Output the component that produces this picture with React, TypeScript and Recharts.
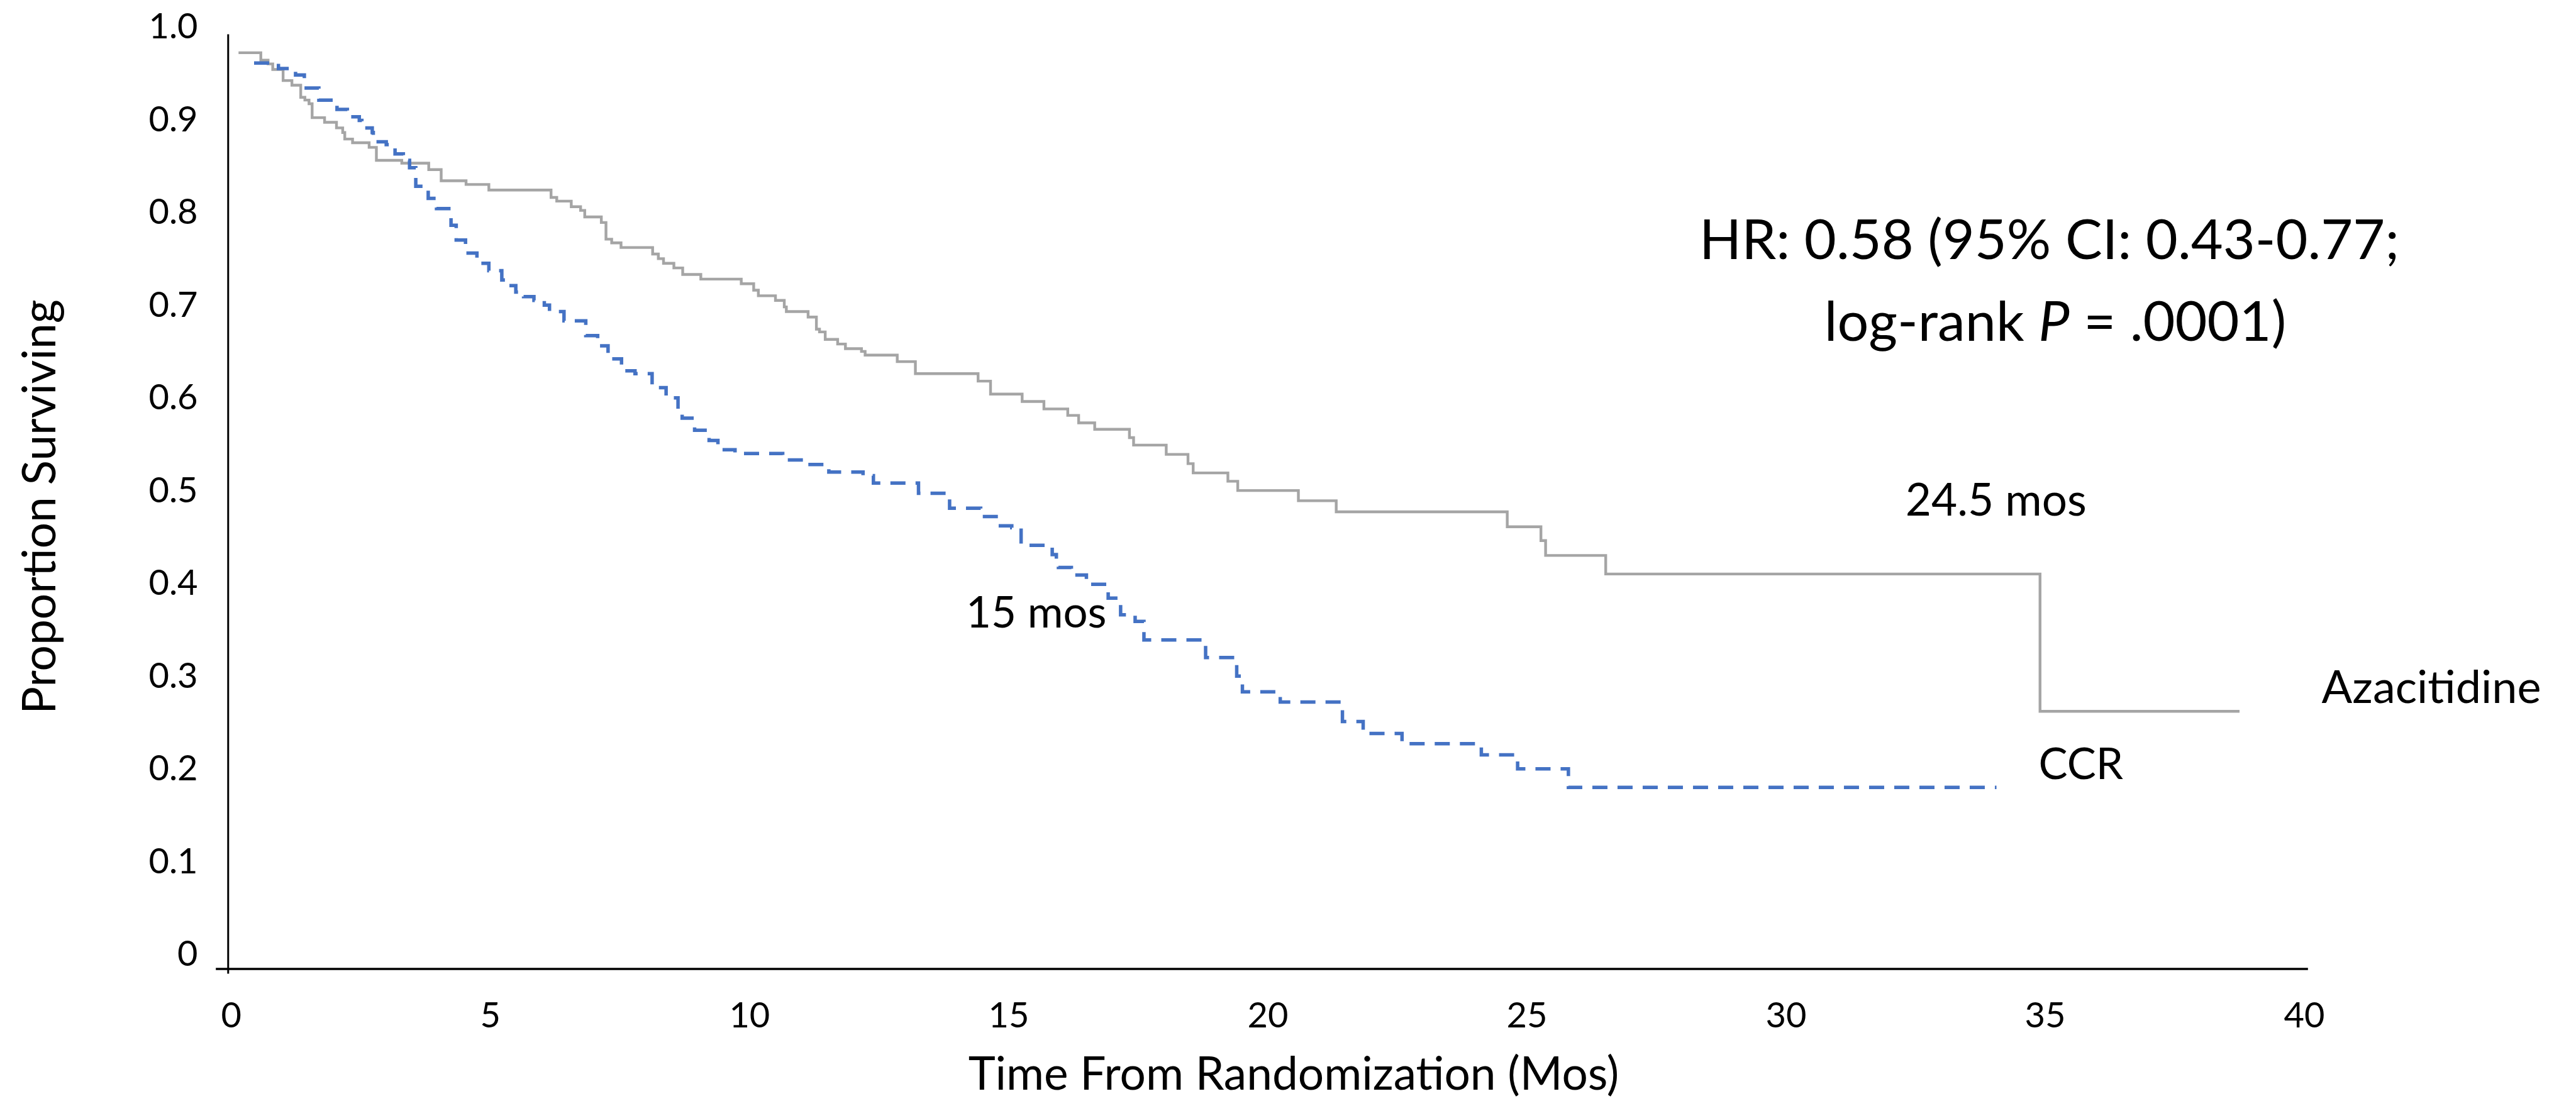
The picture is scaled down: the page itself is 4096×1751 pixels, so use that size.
import React from 'react';
import { LineChart, Line, XAxis, YAxis, ReferenceLine } from 'recharts';

// Azacitidine (solid grey) Kaplan-Meier steps: time (months) and survival level starting at that time
const azaTimes = [0.2, 0.63, 0.77, 0.86, 1.06, 1.23, 1.4, 1.48, 1.56, 1.62, 1.86, 2.09, 2.21, 2.25, 2.4, 2.72, 2.86, 3.35, 3.87, 4.11, 4.59, 5.03, 6.23, 6.34, 6.62, 6.8, 6.88, 7.2, 7.29, 7.4, 7.58, 8.19, 8.3, 8.4, 8.6, 8.77, 9.12, 9.9, 10.14, 10.23, 10.56, 10.73, 10.77, 11.19, 11.35, 11.41, 11.52, 11.76, 11.91, 12.22, 12.29, 12.91, 13.26, 14.47, 14.71, 15.32, 15.74, 16.2, 16.41, 16.72, 17.39, 17.47, 18.1, 18.52, 18.62, 19.29, 19.48, 20.65, 21.38, 24.68, 25.33, 25.42, 26.58, 34.96, 38.81];
const azaSurvival = [0.972, 0.964, 0.96, 0.954, 0.942, 0.937, 0.924, 0.921, 0.917, 0.902, 0.897, 0.891, 0.886, 0.879, 0.875, 0.87, 0.856, 0.853, 0.846, 0.834, 0.83, 0.824, 0.816, 0.812, 0.806, 0.802, 0.795, 0.789, 0.771, 0.767, 0.762, 0.755, 0.75, 0.745, 0.74, 0.733, 0.728, 0.723, 0.716, 0.71, 0.705, 0.698, 0.693, 0.687, 0.674, 0.671, 0.663, 0.658, 0.653, 0.65, 0.646, 0.639, 0.626, 0.618, 0.604, 0.596, 0.588, 0.581, 0.573, 0.566, 0.557, 0.549, 0.539, 0.529, 0.519, 0.51, 0.5, 0.489, 0.477, 0.461, 0.446, 0.43, 0.41, 0.262, 0.262];

// CCR (dashed blue)
const ccrTimes = [0.5, 0.97, 1.3, 1.47, 1.75, 2.1, 2.3, 2.53, 2.58, 2.78, 2.8, 3.05, 3.22, 3.38, 3.5, 3.62, 3.86, 4.02, 4.3, 4.4, 4.58, 4.8, 5.03, 5.28, 5.35, 5.55, 5.7, 5.9, 6.1, 6.2, 6.48, 6.9, 7.13, 7.33, 7.59, 7.85, 8.18, 8.45, 8.68, 8.76, 9.0, 9.28, 9.45, 9.78, 10.7, 11.13, 11.59, 12.25, 12.45, 13.32, 13.92, 14.52, 14.86, 15.12, 15.3, 15.9, 15.98, 16.02, 16.27, 16.56, 16.98, 17.22, 17.5, 17.67, 18.86, 19.46, 19.57, 20.3, 21.5, 21.9, 22.65, 24.18, 24.88, 25.86, 34.12];
const ccrSurvival = [0.961, 0.955, 0.948, 0.934, 0.921, 0.911, 0.903, 0.899, 0.891, 0.886, 0.876, 0.873, 0.863, 0.856, 0.848, 0.828, 0.815, 0.804, 0.786, 0.77, 0.756, 0.745, 0.737, 0.727, 0.721, 0.714, 0.709, 0.705, 0.7, 0.693, 0.683, 0.667, 0.656, 0.642, 0.629, 0.626, 0.611, 0.6, 0.586, 0.578, 0.565, 0.554, 0.544, 0.54, 0.533, 0.528, 0.52, 0.516, 0.508, 0.497, 0.481, 0.472, 0.462, 0.46, 0.441, 0.431, 0.424, 0.417, 0.409, 0.399, 0.384, 0.366, 0.359, 0.339, 0.32, 0.3, 0.283, 0.272, 0.251, 0.238, 0.227, 0.215, 0.2, 0.18, 0.18];

const xTicks = [0, 5, 10, 15, 20, 25, 30, 35, 40];
const yTicks = [0, 0.1, 0.2, 0.3, 0.4, 0.5, 0.6, 0.7, 0.8, 0.9, 1.0];
const yTickLabels = ['0', '0.1', '0.2', '0.3', '0.4', '0.5', '0.6', '0.7', '0.8', '0.9', '1.0'];

const azaData = azaTimes.map((t, i) => ({ t, s: azaSurvival[i] }));
const ccrData = ccrTimes.map((t, i) => ({ t, s: ccrSurvival[i] }));

const Y_MIN = -0.0158;
const FONT = 'Lato, "Open Sans", sans-serif';

const renderYTick = (props: any) => {
  const { y, payload, index } = props;
  const idx = yTicks.indexOf(payload.value);
  const label = idx >= 0 ? yTickLabels[idx] : yTickLabels[index];
  return (
    <text x={314.6} y={y + 18.7} textAnchor="end" fontSize={56} fontFamily={FONT} fill="#000">
      {label}
    </text>
  );
};

const renderXTick = (props: any) => {
  const { x, payload } = props;
  return (
    <text x={x + 5} y={1634} textAnchor="middle" fontSize={56} fontFamily={FONT} fill="#000">
      {payload.value}
    </text>
  );
};

export default function App() {
  return (
    <div style={{ position: 'absolute', left: 0, top: 0, width: 4096, height: 1751, background: '#fff' }}>
      <LineChart
        width={4096}
        height={1751}
        margin={{ top: 42.6, right: 436.9, bottom: 0, left: 0 }}
      >
        <XAxis
          type="number"
          dataKey="t"
          domain={[0, 40]}
          ticks={xTicks}
          allowDataOverflow
          axisLine={false}
          tickLine={false}
          height={210}
          tick={renderXTick}
          interval={0}
        />
        <YAxis
          type="number"
          dataKey="s"
          domain={[Y_MIN, 1]}
          ticks={yTicks}
          allowDataOverflow
          axisLine={false}
          tickLine={false}
          width={362.8}
          tick={renderYTick}
          interval={0}
        />
        <ReferenceLine
          segment={[{ x: -0.238, y: Y_MIN }, { x: 40.13, y: Y_MIN }]}
          stroke="#000"
          strokeWidth={3.5}
          ifOverflow="visible"
        />
        <ReferenceLine
          segment={[{ x: 0, y: 0.992 }, { x: 0, y: Y_MIN - 0.005 }]}
          stroke="#000"
          strokeWidth={3}
          ifOverflow="visible"
        />
        <Line
          data={azaData}
          dataKey="s"
          type="stepAfter"
          stroke="#A5A5A5"
          strokeWidth={4.4}
          dot={false}
          isAnimationActive={false}
        />
        <Line
          data={ccrData}
          dataKey="s"
          type="stepAfter"
          stroke="#4472C4"
          strokeWidth={5.5}
          strokeDasharray="24 16"
          dot={false}
          isAnimationActive={false}
        />
      </LineChart>
      <svg
        width={4096}
        height={1751}
        style={{ position: 'absolute', left: 0, top: 0, pointerEvents: 'none' }}
        fontFamily={FONT}
        fill="#000"
      >
        <text x={87.9} y={806} transform="rotate(-90 87.9 806)" textAnchor="middle" fontSize={73}>
          Proportion Surviving
        </text>
        <text x={2057} y={1733} textAnchor="middle" fontSize={73}>
          Time From Randomization (Mos)
        </text>
        <text x={3258.7} y={411.8} textAnchor="middle" fontSize={88}>
          HR: 0.58 (95% CI: 0.43-0.77;
        </text>
        <text x={3268} y={542} textAnchor="middle" fontSize={88}>
          log-rank <tspan fontStyle="italic">P</tspan> = .0001)
        </text>
        <text x={3173.8} y={820} textAnchor="middle" fontSize={71}>
          24.5 mos
        </text>
        <text x={1647.7} y={998.2} textAnchor="middle" fontSize={69}>
          15 mos
        </text>
        <text x={3691.6} y={1118.2} textAnchor="start" fontSize={72}>
          Azacitidine
        </text>
        <text x={3241.5} y={1238.6} textAnchor="start" fontSize={69}>
          CCR
        </text>
      </svg>
    </div>
  );
}
